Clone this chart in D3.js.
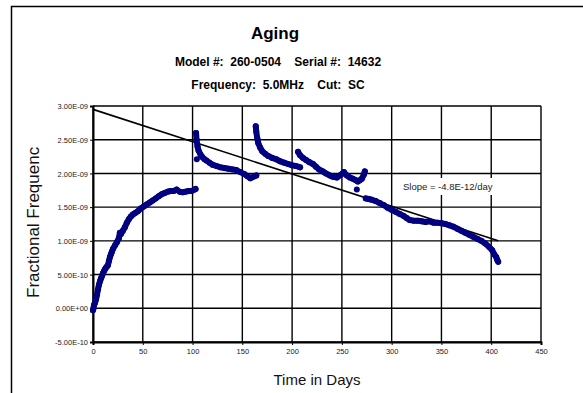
<!DOCTYPE html>
<html>
<head>
<meta charset="utf-8">
<script src="https://cdn.jsdelivr.net/npm/d3@7"></script>
<style>
  body { margin: 0; background: #fff; }
  svg { display: block; font-family: "Liberation Sans", Arial, sans-serif; }
</style>
</head>
<body>
<svg id="chart" width="583" height="393"></svg>
<script>
// values in units of 1e-9 (fractional frequency)
const seg1Days = [0, 0.5, 1, 2, 3, 4, 5, 6, 7, 8, 9, 10, 11, 12, 13, 14, 15, 16, 17, 18, 19, 20, 22, 24, 26, 27, 28, 30, 32, 34, 36, 38, 40, 42, 45, 48, 51, 54, 57, 60, 63, 66, 69, 72, 75, 78, 81, 84, 87, 90, 93, 96, 99, 102, 103];
const seg1Vals = [-0.03, 0.0, 0.05, 0.08, 0.13, 0.2, 0.28, 0.35, 0.4, 0.44, 0.48, 0.52, 0.55, 0.58, 0.6, 0.62, 0.64, 0.7, 0.76, 0.8, 0.84, 0.88, 0.93, 0.98, 1.04, 1.12, 1.1, 1.15, 1.2, 1.27, 1.32, 1.36, 1.39, 1.41, 1.44, 1.48, 1.51, 1.54, 1.57, 1.6, 1.63, 1.66, 1.69, 1.71, 1.73, 1.74, 1.74, 1.76, 1.73, 1.72, 1.73, 1.74, 1.74, 1.76, 1.77];

const seg2Days = [103.5, 104, 105, 106, 108, 110, 112, 114, 117, 120, 124, 128, 132, 136, 140, 144, 148, 152, 155, 158, 161, 164];
const seg2Vals = [2.6, 2.5, 2.4, 2.34, 2.28, 2.24, 2.21, 2.19, 2.16, 2.13, 2.11, 2.09, 2.08, 2.07, 2.06, 2.05, 2.02, 1.99, 1.96, 1.93, 1.95, 1.97];

const seg3Days = [163.5, 164, 165, 166, 168, 170, 173, 176, 180, 184, 188, 192, 196, 200, 204, 208];
const seg3Vals = [2.7, 2.62, 2.52, 2.45, 2.38, 2.33, 2.29, 2.26, 2.23, 2.21, 2.18, 2.16, 2.14, 2.12, 2.11, 2.09];

const seg4Days = [206, 208, 211, 214, 217, 221, 224, 227, 231, 234, 238, 241, 245, 249, 252, 255, 258, 261, 264, 266, 268, 270, 272, 273];
const seg4Vals = [2.32, 2.27, 2.23, 2.2, 2.17, 2.14, 2.1, 2.06, 2.03, 2.0, 1.97, 1.95, 1.94, 1.98, 2.02, 1.97, 1.94, 1.92, 1.9, 1.88, 1.9, 1.92, 1.98, 2.03];

const seg5Days = [274, 277, 280, 284, 288, 292, 296, 300, 304, 308, 312, 315, 318, 322, 326, 330, 334, 338, 342, 346, 350, 354, 358, 362, 366, 370, 374, 378, 382, 386, 390, 394, 398, 401, 403, 405, 406, 407];
const seg5Vals = [1.63, 1.62, 1.61, 1.59, 1.56, 1.53, 1.49, 1.46, 1.43, 1.4, 1.37, 1.34, 1.31, 1.3, 1.3, 1.29, 1.28, 1.29, 1.27, 1.27, 1.26, 1.25, 1.23, 1.21, 1.18, 1.15, 1.12, 1.09, 1.06, 1.03, 1.0, 0.96, 0.91, 0.86, 0.8, 0.76, 0.72, 0.69];

const outlierDays = [104.3, 265];
const outlierVals = [2.21, 1.76];

const trendDays = [0, 407];
const trendVals = [2.95, 1.0];

const xTicks = [0, 50, 100, 150, 200, 250, 300, 350, 400, 450];
const yTicks = [-0.5, 0, 0.5, 1.0, 1.5, 2.0, 2.5, 3.0];

const svg = d3.select('#chart');
const plot = { left: 93, right: 541, top: 106, bottom: 342 };

const x = d3.scaleLinear().domain([0, 450]).range([plot.left, plot.right]);
const y = d3.scaleLinear().domain([-0.5, 3.0]).range([plot.bottom, plot.top]);

// format like Excel: 3.00E-09
function sci(v) {
    const s = (v * 1e-9).toExponential(2).toUpperCase();
    return s.replace(/E([+-])(\d)$/, 'E$10$2');
}

// outer chart frame (cropped at right/bottom)
svg.append('rect')
    .attr('x', 11.5).attr('y', 6.5).attr('width', 600).attr('height', 400)
    .attr('fill', 'none').attr('stroke', '#000').attr('stroke-width', 1.5);

// titles
svg.append('text').attr('x', 275).attr('y', 39).attr('text-anchor', 'middle')
    .style('font-size', '17px').style('font-weight', 'bold').text('Aging');
svg.append('text').attr('x', 278).attr('y', 66).attr('text-anchor', 'middle')
    .style('font-size', '12px').style('font-weight', 'bold').style('white-space', 'pre')
    .text('Model #:  260-0504    Serial #:  14632');
svg.append('text').attr('x', 278).attr('y', 89).attr('text-anchor', 'middle')
    .style('font-size', '12px').style('font-weight', 'bold').style('white-space', 'pre')
    .text('Frequency:  5.0MHz    Cut:  SC');

// gridlines
svg.append('g').selectAll('line').data(yTicks).enter().append('line')
    .attr('x1', plot.left).attr('x2', plot.right)
    .attr('y1', d => y(d)).attr('y2', d => y(d))
    .attr('stroke', '#000').attr('stroke-width', 1.4);
svg.append('g').selectAll('line').data(xTicks).enter().append('line')
    .attr('x1', d => x(d)).attr('x2', d => x(d))
    .attr('y1', plot.top).attr('y2', plot.bottom)
    .attr('stroke', '#000').attr('stroke-width', 1.4);

// axes
const yAxis = svg.append('g').attr('transform', `translate(${plot.left},0)`)
    .call(d3.axisLeft(y).tickValues(yTicks).tickFormat(sci).tickSize(3).tickPadding(2));
const xAxis = svg.append('g').attr('transform', `translate(0,${plot.bottom})`)
    .call(d3.axisBottom(x).tickValues(xTicks).tickSize(3).tickPadding(4));
[xAxis, yAxis].forEach(a => {
    a.select('.domain').attr('stroke', '#000').attr('stroke-width', 2);
    a.selectAll('.tick line').attr('stroke', '#000');
    a.selectAll('text').style('font-family', '"Liberation Sans", Arial, sans-serif')
        .style('font-size', '7.5px').attr('fill', '#222');
});
yAxis.selectAll('text').attr('dy', '0.35em');

// axis titles (y title is cut off at the top, as in the original)
svg.append('defs').append('clipPath').attr('id', 'ytitleClip')
    .append('rect').attr('x', 0).attr('y', 147).attr('width', 60).attr('height', 240);
svg.append('g').attr('clip-path', 'url(#ytitleClip)')
    .append('text')
    .attr('transform', 'translate(39,298) rotate(-90)')
    .style('font-size', '17px').attr('fill', '#111')
    .text('Fractional Frequency');
svg.append('text').attr('x', (plot.left + plot.right) / 2).attr('y', 385)
    .attr('text-anchor', 'middle').style('font-size', '15px').attr('fill', '#111')
    .text('Time in Days');

// trend line
svg.append('line')
    .attr('x1', x(trendDays[0])).attr('y1', y(trendVals[0]))
    .attr('x2', x(trendDays[1])).attr('y2', y(trendVals[1]))
    .attr('stroke', '#000').attr('stroke-width', 1.6);

// data
const navy = '#000080';
const line = d3.line().x(d => x(d[0])).y(d => y(d[1]));
const segments = [
    [seg1Days, seg1Vals], [seg2Days, seg2Vals], [seg3Days, seg3Vals],
    [seg4Days, seg4Vals], [seg5Days, seg5Vals]
].map(([ds, vs]) => ds.map((d, i) => [d, vs[i]]));

const dataG = svg.append('g');
segments.forEach(seg => {
    dataG.append('path').datum(seg).attr('d', line)
        .attr('fill', 'none').attr('stroke', navy).attr('stroke-width', 6)
        .attr('stroke-linejoin', 'round').attr('stroke-linecap', 'round');
    dataG.selectAll(null).data(seg).enter().append('circle')
        .attr('cx', d => x(d[0])).attr('cy', d => y(d[1])).attr('r', 3).attr('fill', navy);
});
dataG.selectAll(null).data(outlierDays.map((d, i) => [d, outlierVals[i]])).enter()
    .append('circle')
    .attr('cx', d => x(d[0])).attr('cy', d => y(d[1])).attr('r', 3).attr('fill', navy);

// slope label
svg.append('rect').attr('x', 400).attr('y', 178).attr('width', 100).attr('height', 17).attr('fill', '#fff');
svg.append('text').attr('x', 403).attr('y', 190).style('font-size', '9.5px').attr('fill', '#222')
    .text('Slope = -4.8E-12/day');
</script>
</body>
</html>
